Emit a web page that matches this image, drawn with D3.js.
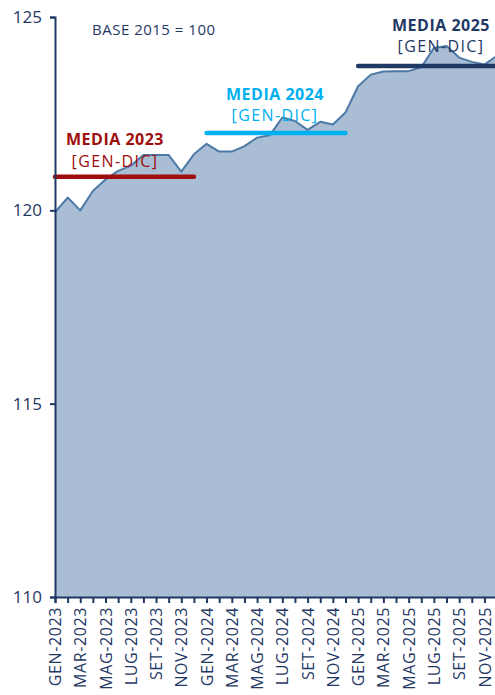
<!doctype html>

<meta charset="utf-8">
<title>Indice base 2015 = 100</title>

<style>
	body { margin: 0; background: #fff; }
	svg { display: block; font-family: "Open Sans", sans-serif; }
</style>

<svg id="visual" width="495" height="695"></svg>

<script src="https://cdn.jsdelivr.net/npm/d3@7"></script>

<script>

// (months)
var mesi = ["GEN", "FEB", "MAR", "APR", "MAG", "GIU", "LUG", "AGO", "SET", "OTT", "NOV", "DIC"];
var anni = [2023, 2024, 2025];
var categories = [];
anni.forEach(function(a) {
	mesi.forEach(function(m) { categories.push(m + "-" + a); });
});

// (values)
var values = [
	119.95, 120.33, 120.00, 120.50, 120.80, 121.02, 121.15, 121.43, 121.43, 121.43, 121.00, 121.45,
	121.72, 121.52, 121.52, 121.66, 121.88, 121.94, 122.40, 122.31, 122.08, 122.29, 122.22, 122.53,
	123.21, 123.51, 123.59, 123.60, 123.60, 123.70, 124.20, 124.25, 123.95, 123.84, 123.77, 124.00
];

// (yearly means)
var medie = [120.87, 122.00, 123.73];
var medieColori = ["#a00d0d", "#00b0f0", "#1f3864"];

// (y ticks)
var yTicks = [110, 115, 120, 125];

// (scales)
var svg = d3.select("#visual");
var step = 12.63;
var x = d3.scalePoint()
	.domain(categories)
	.range([55, 55 + step * (categories.length - 1)]);
var y = d3.scaleLinear()
	.domain([110, 125])
	.range([597, 17]);

var navy = "#1f3864";

// (area)
svg.append("path")
	.datum(values)
	.attr("fill", "#a9bed4")
	.attr("d", d3.area()
		.x(function(d, i) { return x(categories[i]); })
		.y0(y(110))
		.y1(function(d) { return y(d); }));

svg.append("path")
	.datum(values)
	.attr("fill", "none")
	.attr("stroke", "#4d79a6")
	.attr("stroke-width", 2)
	.attr("stroke-linejoin", "round")
	.attr("d", d3.line()
		.x(function(d, i) { return x(categories[i]); })
		.y(function(d) { return y(d); }));

// (mean lines)
medie.forEach(function(m, i) {
	svg.append("line")
		.attr("x1", x(categories[i * 12]))
		.attr("x2", x(categories[i * 12 + 11]))
		.attr("y1", y(m))
		.attr("y2", y(m))
		.attr("stroke", medieColori[i])
		.attr("stroke-width", 4.5)
		.attr("stroke-linecap", "round");
});

// (mean labels)
var etichette = [
	{cx: 115, y1: 145, y2: 167},
	{cx: 275, y1: 100, y2: 121},
	{cx: 441, y1: 31, y2: 52}
];
etichette.forEach(function(e, i) {
	svg.append("text")
		.attr("x", e.cx)
		.attr("y", e.y1)
		.attr("text-anchor", "middle")
		.attr("font-size", "16px")
		.attr("letter-spacing", "0.5px")
		.attr("font-weight", "bold")
		.attr("fill", medieColori[i])
		.text("MEDIA " + anni[i]);
	svg.append("text")
		.attr("x", e.cx)
		.attr("y", e.y2)
		.attr("text-anchor", "middle")
		.attr("font-size", "16px")
		.attr("letter-spacing", "1.4px")
		.attr("fill", medieColori[i])
		.text("[GEN-DIC]");
});

// (base label)
svg.append("text")
	.attr("x", 92)
	.attr("y", 35)
	.attr("font-size", "15px")
	.attr("letter-spacing", "0.5px")
	.attr("fill", navy)
	.text("BASE 2015 = 100");

// (y axis)
var yAxis = svg.append("g")
	.attr("transform", "translate(55,0)")
	.call(d3.axisLeft(y).tickValues(yTicks).tickSize(5).tickPadding(8));

// (x axis)
var xAxis = svg.append("g")
	.attr("transform", "translate(0," + y(110) + ")")
	.call(d3.axisBottom(x)
		.tickSize(6)
		.tickFormat(function(d, i) { return i % 2 === 0 ? d : ""; }));

xAxis.selectAll("text")
	.attr("transform", "rotate(-90)")
	.attr("text-anchor", "end")
	.attr("x", -10)
	.attr("y", 0)
	.attr("dy", "0.35em");

[yAxis, xAxis].forEach(function(a) {
	a.select(".domain").attr("stroke", navy).attr("stroke-width", 2);
	a.selectAll(".tick line").attr("stroke", navy).attr("stroke-width", 2);
	a.selectAll("text").attr("fill", navy).attr("font-family", "Open Sans, sans-serif");
});
yAxis.selectAll("text").attr("font-size", "17px");
xAxis.selectAll("text").attr("font-size", "16px").attr("letter-spacing", "0.6px");

</script>
